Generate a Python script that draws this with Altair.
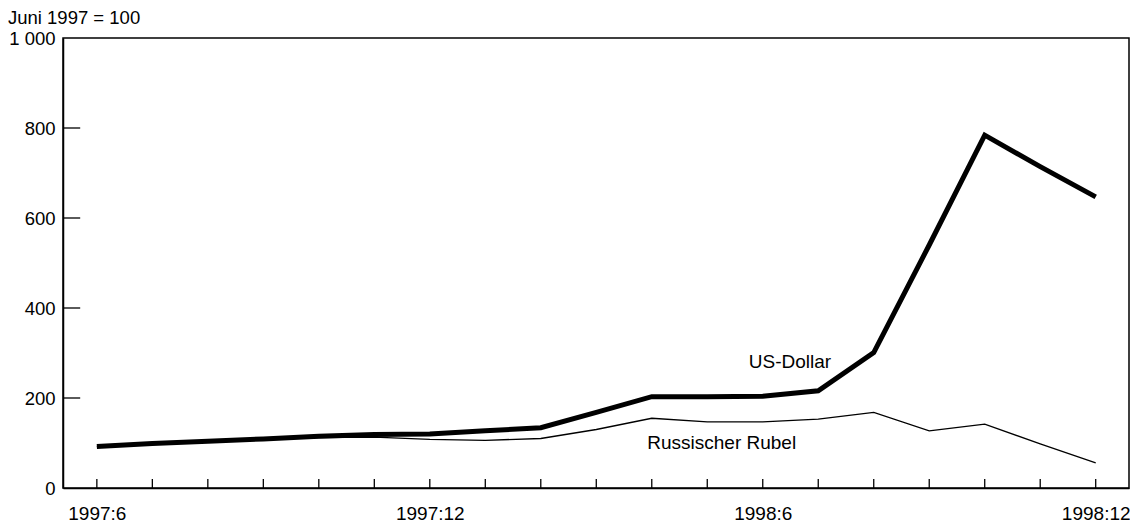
import altair as alt
import pandas as pd

# ---- data ----
months = ["1997:6", "1997:7", "1997:8", "1997:9", "1997:10", "1997:11", "1997:12",
          "1998:1", "1998:2", "1998:3", "1998:4", "1998:5", "1998:6",
          "1998:7", "1998:8", "1998:9", "1998:10", "1998:11", "1998:12"]
usd = [92, 99, 104, 109, 115, 119, 120, 127, 134, 168, 203, 203, 204,
       216, 301, 540, 784, 714, 647]
rub = [92, 99, 104, 108, 112, 113, 108, 106, 110, 130, 155, 147, 147,
       153, 168, 127, 142, 98, 56]
series_names = ["US-Dollar", "Russischer Rubel"]
label_idx = [12.49, 11.26]
label_val = [280, 100]
x_label_values = [0, 6, 12, 18]
y_values = [0, 200, 400, 600, 800, 1000]
y_inner_ticks = [200, 400, 600, 800]
title_text = "Juni 1997 = 100"

FONT = "Liberation Sans"
FS = 19
XMIN, XMAX = -0.61, 18.6
XTICK_LEN = 20      # in y units
YTICK_LEN = 0.31    # in month units

idx = list(range(len(months)))
df = pd.DataFrame({
    "idx": idx * 2,
    "value": usd + rub,
    "series": [series_names[0]] * len(idx) + [series_names[1]] * len(idx),
})

label_expr = "[" + ",".join(f"'{m}'" for m in months) + "][datum.value]"
x_scale = alt.Scale(domain=[XMIN, XMAX], nice=False, zero=False)
y_scale = alt.Scale(domain=[0, 1000], nice=False)
x_axis = alt.Axis(values=x_label_values, labelExpr=label_expr, ticks=False, tickSize=0,
                  grid=False, title=None, labelPadding=16, labelAngle=0)
y_axis = alt.Axis(values=y_values, labelExpr="datum.value == 1000 ? '1 000' : datum.label",
                  ticks=False, tickSize=0, grid=False, title=None, labelPadding=8,
                  labelFontSize=18.5)

base = alt.Chart(df)
usd_line = base.transform_filter(alt.datum.series == series_names[0]).mark_line(
    color="black", strokeWidth=5
).encode(
    x=alt.X("idx:Q", scale=x_scale, axis=x_axis),
    y=alt.Y("value:Q", scale=y_scale, axis=y_axis),
)
rub_line = base.transform_filter(alt.datum.series == series_names[1]).mark_line(
    color="black", strokeWidth=1.3
).encode(
    x=alt.X("idx:Q", scale=x_scale, axis=x_axis),
    y=alt.Y("value:Q", scale=y_scale, axis=y_axis),
)

xt = pd.DataFrame({"idx": idx, "y0": [0] * len(idx), "y1": [XTICK_LEN] * len(idx)})
x_ticks = alt.Chart(xt).mark_rule(color="black", strokeWidth=1.3).encode(
    x=alt.X("idx:Q", scale=x_scale, axis=x_axis),
    y=alt.Y("y0:Q", scale=y_scale, axis=y_axis),
    y2="y1:Q",
)

yt = pd.DataFrame({"value": y_inner_ticks, "x0": [XMIN] * len(y_inner_ticks),
                   "x1": [XMIN + YTICK_LEN] * len(y_inner_ticks)})
y_ticks = alt.Chart(yt).mark_rule(color="black", strokeWidth=1.3).encode(
    x=alt.X("x0:Q", scale=x_scale, axis=x_axis),
    x2="x1:Q",
    y=alt.Y("value:Q", scale=y_scale, axis=y_axis),
)

lab = pd.DataFrame({"idx": label_idx, "value": label_val, "text": series_names})
labels = alt.Chart(lab).mark_text(
    font=FONT, fontSize=FS, color="black", align="center", baseline="middle"
).encode(
    x=alt.X("idx:Q", scale=x_scale, axis=x_axis),
    y=alt.Y("value:Q", scale=y_scale, axis=y_axis),
    text="text:N",
)

title = alt.Chart(pd.DataFrame({"t": [title_text]})).mark_text(
    font=FONT, fontSize=18.5, color="black", align="left", baseline="middle"
).encode(text="t:N", x=alt.value(-55), y=alt.value(-20))

chart = alt.layer(x_ticks, y_ticks, rub_line, usd_line, labels, title).properties(
    width=1066, height=450,
    autosize=alt.AutoSizeParams(type="none"),
    padding={"left": 55, "top": 30, "right": 1, "bottom": 35},
    background="white",
).configure_axis(
    labelFont=FONT, labelFontSize=FS, labelColor="black",
    domainColor="black", domainWidth=1.5,
).configure_view(stroke="black", strokeWidth=1.5)

chart.save("out.html", embed_options={"renderer": "svg", "actions": False})
